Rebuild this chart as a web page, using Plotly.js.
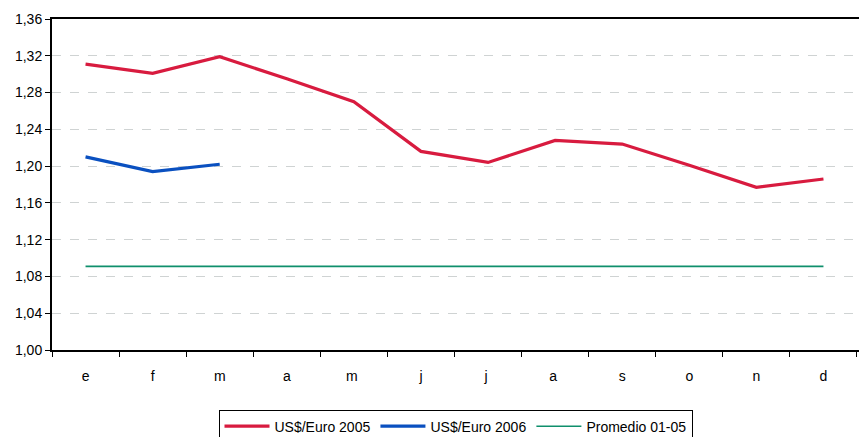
<!DOCTYPE html>
<html>
<head>
<meta charset="utf-8">
<script src="https://cdn.plot.ly/plotly-3.0.1.min.js"></script>
<style>html,body{margin:0;padding:0;background:#fff;}#chart{width:859px;height:437px;}</style>
</head>
<body>
<div id="chart"></div>
<script>
const months = ["e","f","m","a","m ","j","j ","a ","s","o","n","d"];
const usEuro2005 = [1.311, 1.301, 1.319, 1.295, 1.270, 1.216, 1.204, 1.228, 1.224, 1.201, 1.177, 1.186];
const usEuro2006 = [1.210, 1.194, 1.202];
const promedio0105 = [1.091, 1.091, 1.091, 1.091, 1.091, 1.091, 1.091, 1.091, 1.091, 1.091, 1.091, 1.091];
const yTicks = [1.00, 1.04, 1.08, 1.12, 1.16, 1.20, 1.24, 1.28, 1.32, 1.36];

const traces = [
  {x: months, y: usEuro2005, name: "US$/Euro 2005", type: "scatter", mode: "lines",
   line: {color: "#d81b3f", width: 3.2}},
  {x: months.slice(0, usEuro2006.length), y: usEuro2006, name: "US$/Euro 2006", type: "scatter", mode: "lines",
   line: {color: "#0a50c0", width: 3.2}},
  {x: months, y: promedio0105, name: "Promedio 01-05", type: "scatter", mode: "lines",
   line: {color: "#0f8f6c", width: 1.6}}
];

const layout = {
  width: 859, height: 437,
  margin: {l: 52, r: 0, t: 19, b: 87, autoexpand: false},
  paper_bgcolor: "#fff", plot_bgcolor: "#fff",
  separators: ",.",
  font: {family: "Liberation Sans, Arial, sans-serif", size: 13, color: "#000"},
  showlegend: true,
  legend: {orientation: "h", x: 0.5, xanchor: "center", y: -0.18, yanchor: "top",
           bordercolor: "#000", borderwidth: 1, font: {size: 14}, itemwidth: 45,
           tracegroupgap: 0, traceorder: "normal"},
  xaxis: {type: "category", range: [-0.5, 11.53], tickson: "boundaries",
          ticks: "outside", ticklen: 5, tickcolor: "#000", tickwidth: 1,
          showline: true, linecolor: "#000", linewidth: 2, mirror: true,
          showgrid: false, zeroline: false, tickfont: {size: 14}, ticklabelstandoff: 12,
          fixedrange: true},
  yaxis: {range: [1.00, 1.36], tickvals: yTicks, tickformat: ".2f",
          ticks: "outside", ticklen: 5, tickcolor: "#000", tickwidth: 1,
          showline: true, linecolor: "#000", linewidth: 2,
          showgrid: true, gridcolor: "#cfd3d3", griddash: "dash", gridwidth: 1,
          zeroline: false, tickfont: {size: 14}, fixedrange: true}
};

Plotly.newPlot("chart", traces, layout, {displayModeBar: false, staticPlot: true});
</script>
</body>
</html>
